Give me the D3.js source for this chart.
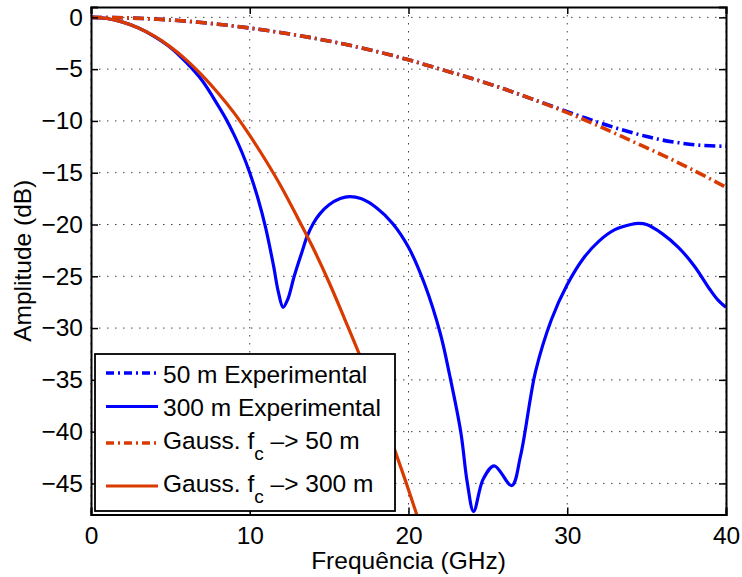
<!DOCTYPE html>
<html>
<head>
<meta charset="utf-8">
<script src="https://cdn.jsdelivr.net/npm/d3@7"></script>
<style>
  body { margin: 0; background: #fff; }
  svg { display: block; font-family: "Liberation Sans", Arial, Helvetica, sans-serif; }
</style>
</head>
<body>
<div class="chart"></div>
<script>
// values (GHz, dB)
var xTicks = [0, 10, 20, 30, 40];
var yTicks = [0, -5, -10, -15, -20, -25, -30, -35, -40, -45];

var exp50X = [0, 2, 4, 6, 8, 10, 12, 14, 16, 18, 20, 22, 24, 26, 28, 30, 31, 32, 33, 34, 35, 36, 37, 38, 39, 40];
var exp50Y = [0, -0.04, -0.16, -0.37, -0.66, -1.03, -1.48, -2.0, -2.6, -3.3, -4.1, -5.0, -5.9, -6.9, -8.0, -9.1, -9.65, -10.15, -10.65, -11.1, -11.5, -11.85, -12.1, -12.3, -12.4, -12.45];

var exp300X = [0, 1, 2, 3, 4, 5, 6, 7, 8, 8.5, 9, 9.5, 10, 10.5, 11, 11.5, 11.8, 12.1, 12.4, 12.8, 13.3, 13.6, 14, 14.4, 15, 15.7, 16.3, 17, 18, 19, 20, 21, 22, 22.6, 23.3, 23.7, 24.1, 24.7, 25.4, 26.5, 27.05, 27.7, 28, 29, 30, 31, 32, 33, 34, 34.5, 35, 36, 37, 38, 39, 39.5, 40];
var exp300Y = [0, -0.11, -0.46, -1.03, -1.85, -2.9, -4.35, -6.1, -8.5, -9.8, -11.3, -13.0, -15.0, -17.4, -20.3, -24.0, -26.5, -28.0, -27.2, -25.0, -22.6, -21.2, -19.9, -19.0, -18.1, -17.5, -17.3, -17.5, -18.4, -19.9, -22.2, -25.7, -30.5, -34.6, -40.1, -44.9, -47.7, -44.6, -43.3, -45.2, -42.4, -36.6, -34.2, -29.2, -25.8, -23.3, -21.6, -20.5, -20.0, -19.9, -20.0, -20.9, -22.2, -24.0, -26.3, -27.3, -28.0];

var gauss50X = [0, 2, 4, 6, 8, 10, 12, 14, 16, 18, 20, 22, 24, 26, 28, 30, 32, 34, 36, 38, 40];
var gauss50Y = [0, -0.04, -0.16, -0.37, -0.66, -1.03, -1.48, -2.0, -2.6, -3.3, -4.1, -5.0, -5.9, -6.9, -8.0, -9.2, -10.5, -11.9, -13.3, -14.8, -16.4];

var gauss300X = [0, 1, 2, 3, 4, 5, 6, 7, 8, 9, 10, 11, 12, 13, 14, 15, 16, 17, 18, 19, 20, 21];
var gauss300Y = [0, -0.11, -0.46, -1.03, -1.82, -2.85, -4.1, -5.6, -7.3, -9.2, -11.4, -13.8, -16.4, -19.3, -22.3, -25.6, -29.2, -32.9, -36.9, -41.2, -45.6, -50.3];

var labels = ["50 m Experimental", "300 m Experimental", "Gauss. f", "Gauss. f"];
var labelTails = ["", "", " –> 50 m", " –> 300 m"];

var BLUE = "#0000ff", RED = "#d83a00";
var DASHDOT = "11,4,2,4";
var FS = 24.5;

var width = 742, height = 577;
var pL = 91, pR = 726, pT = 7, pB = 514.5;

var svg = d3.select(".chart").append("svg")
    .attr("width", width)
    .attr("height", height);

var x = d3.scaleLinear().domain([0, 40]).range([pL, pR]);
var y = d3.scaleLinear().domain([-48, 1]).range([pB, pT]);

svg.append("clipPath").attr("id", "clip")
  .append("rect").attr("x", pL).attr("y", pT).attr("width", pR - pL).attr("height", pB - pT);

// dotted grid
svg.append("g").selectAll("line").data(yTicks).enter().append("line")
    .attr("x1", pL).attr("x2", pR)
    .attr("y1", function(d) { return y(d); }).attr("y2", function(d) { return y(d); })
    .attr("stroke", "#444").attr("stroke-width", 1).attr("stroke-dasharray", "1.5,6.5");
svg.append("g").selectAll("line").data(xTicks).enter().append("line")
    .attr("y1", pT).attr("y2", pB)
    .attr("x1", function(d) { return x(d); }).attr("x2", function(d) { return x(d); })
    .attr("stroke", "#444").attr("stroke-width", 1).attr("stroke-dasharray", "1.5,6.5");

// curves
var series = [
  { xs: exp50X, ys: exp50Y, color: BLUE, dash: DASHDOT, w: 3.6 },
  { xs: exp300X, ys: exp300Y, color: BLUE, dash: null, w: 3.2 },
  { xs: gauss50X, ys: gauss50Y, color: RED, dash: DASHDOT, w: 3.6 },
  { xs: gauss300X, ys: gauss300Y, color: RED, dash: null, w: 3.2 }
];

var line = d3.line()
    .x(function(d) { return x(d[0]); })
    .y(function(d) { return y(d[1]); })
    .curve(d3.curveCatmullRom.alpha(0.5));

var plot = svg.append("g").attr("clip-path", "url(#clip)");
series.forEach(function(s) {
  plot.append("path")
      .datum(d3.zip(s.xs, s.ys))
      .attr("d", line)
      .attr("fill", "none")
      .attr("stroke", s.color)
      .attr("stroke-width", s.w)
      .attr("stroke-dasharray", s.dash);
});

// axes (ticks inward, box on)
var fmt = function(d) { return d3.format("")(d); };
var axL = svg.append("g").attr("transform", "translate(" + pL + ",0)")
    .call(d3.axisLeft(y).tickValues(yTicks).tickSize(-7).tickPadding(8).tickFormat(fmt));
var axB = svg.append("g").attr("transform", "translate(0," + pB + ")")
    .call(d3.axisBottom(x).tickValues(xTicks).tickSize(-7).tickPadding(12).tickFormat(fmt));
var axR = svg.append("g").attr("transform", "translate(" + pR + ",0)")
    .call(d3.axisRight(y).tickValues(yTicks).tickSize(-7).tickFormat(""));
var axT = svg.append("g").attr("transform", "translate(0," + pT + ")")
    .call(d3.axisTop(x).tickValues(xTicks).tickSize(-7).tickFormat(""));

[axL, axB, axR, axT].forEach(function(a) {
  a.select(".domain").attr("stroke", "#000").attr("stroke-width", 2);
  a.selectAll(".tick line").attr("stroke", "#000").attr("stroke-width", 1.5);
  a.selectAll("text").attr("font-size", FS).attr("fill", "#000")
      .attr("font-family", "Liberation Sans, Arial, sans-serif");
});

// axis titles
svg.append("text")
    .attr("x", (pL + pR) / 2).attr("y", 569)
    .attr("text-anchor", "middle").attr("font-size", FS)
    .text("Frequência (GHz)");
svg.append("text")
    .attr("transform", "translate(31," + (pT + pB) / 2 + ") rotate(-90)")
    .attr("text-anchor", "middle").attr("font-size", FS)
    .text("Amplitude (dB)");

// legend
var legend = svg.append("g");
legend.append("rect")
    .attr("x", 95).attr("y", 354).attr("width", 300).attr("height", 157)
    .attr("fill", "#fff").attr("stroke", "#000").attr("stroke-width", 1.8);

var rowLine = [373, 406.5, 443, 486];
var rowBase = [383, 416, 449, 492];

series.forEach(function(s, i) {
  legend.append("line")
      .attr("x1", 106).attr("x2", 158)
      .attr("y1", rowLine[i]).attr("y2", rowLine[i])
      .attr("stroke", s.color).attr("stroke-width", s.w)
      .attr("stroke-dasharray", s.dash ? "8,4,2,4" : null);
  var t = legend.append("text")
      .attr("x", 163).attr("y", rowBase[i])
      .attr("font-size", FS).attr("fill", "#000");
  t.append("tspan").text(labels[i]);
  if (labelTails[i]) {
    t.append("tspan").attr("font-size", 19).attr("dy", 11).text("c");
    t.append("tspan").attr("dy", -11).text(labelTails[i]);
  }
});
</script>
</body>
</html>
